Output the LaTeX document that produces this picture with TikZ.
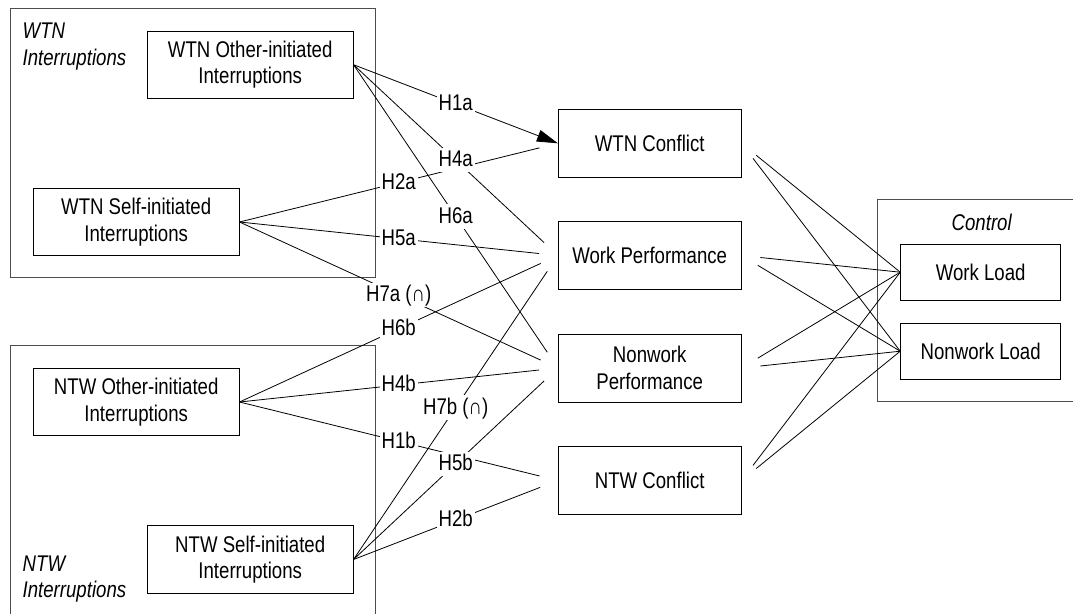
\documentclass[tikz,border=0pt]{standalone}
\usepackage{fontspec}
\setmainfont{Liberation Sans}[FakeStretch=0.82]
\usetikzlibrary{arrows.meta}
\newcommand\figfont{\fontsize{22.7}{26.7}\selectfont}
\begin{document}
\begin{tikzpicture}[x=1pt,y=-1pt,
  box/.style={draw=black, line width=0.9pt, align=center, inner sep=0pt,
    font=\figfont, minimum width=205.7pt, minimum height=67.3pt},
  midbox/.style={box, minimum width=182.7pt, minimum height=68pt},
  loadbox/.style={box, minimum width=160pt, minimum height=55.7pt},
  group/.style={draw=black!70, line width=1pt},
  grouplab/.style={font=\figfont\itshape, align=left, inner sep=0pt},
  hyp/.style={draw=black, line width=0.8pt},
  hlab/.style={fill=white, font=\figfont, text height=18pt, text depth=4.5pt,
    inner xsep=2pt, inner ysep=1pt},
  tomid/.style={hyp, shorten >=19pt},
  frommid/.style={hyp, shorten <=19pt},
  effect/.style={hyp, -{Triangle[length=21pt,width=12pt]}}
]
\useasboundingbox (0,0) rectangle (1073,613);
\clip (0,0) rectangle (1073,613);

% grouping frames (the lower and right ones run off the page)
\draw[group] (10.7,8.3) rectangle (375.7,277.7);
\draw[group] (10.7,345.7) rectangle (375.7,640);
\draw[group] (877.7,199.3) rectangle (1100,401);

\node[grouplab, anchor=north west] (wtngrp) at (22.5,22.7) {WTN\\Interruptions};
\node[grouplab, anchor=north west] (ntwgrp) at (22.5,555.4) {NTW\\Interruptions};
\node[grouplab, anchor=base] (ctrlgrp) at (981.7,230) {Control};

% constructs
\node[box] (wtnother) at (250.2,64.7) {WTN Other-initiated\\Interruptions};
\node[box] (wtnself) at (136.2,222) {WTN Self-initiated\\Interruptions};
\node[box] (ntwother) at (136.2,402) {NTW Other-initiated\\Interruptions};
\node[box] (ntwself) at (250.2,559.5) {NTW Self-initiated\\Interruptions};

\node[midbox] (wtnc) at (649.7,143.3) {WTN Conflict};
\node[midbox] (wperf) at (649.7,255.5) {Work Performance};
\node[midbox] (nperf) at (649.7,368) {Nonwork\\Performance};
\node[midbox] (ntwc) at (649.7,480.5) {NTW Conflict};

\node[loadbox] (wload) at (980.7,272.2) {Work Load};
\node[loadbox] (nload) at (980.7,351.2) {Nonwork Load};

% hypothesised paths
\draw[effect] (wtnother.east) -- coordinate[midway] (pH1a) (wtnc.west);
\draw[tomid] (wtnother.east) -- coordinate[midway] (pH4a) (wperf.west);
\draw[tomid] (wtnother.east) -- coordinate[midway] (pH6a) (nperf.west);
\draw[tomid] (wtnself.east) -- coordinate[midway] (pH2a) (wtnc.west);
\draw[tomid] (wtnself.east) -- coordinate[midway] (pH5a) (wperf.west);
\draw[tomid] (wtnself.east) -- coordinate[midway] (pH7a) (nperf.west);
\draw[tomid] (ntwother.east) -- coordinate[midway] (pH6b) (wperf.west);
\draw[tomid] (ntwother.east) -- coordinate[midway] (pH4b) (nperf.west);
\draw[tomid] (ntwother.east) -- coordinate[midway] (pH1b) (ntwc.west);
\draw[tomid] (ntwself.east) -- coordinate[midway] (pH7b) (wperf.west);
\draw[tomid] (ntwself.east) -- coordinate[midway] (pH5b) (nperf.west);
\draw[tomid] (ntwself.east) -- coordinate[midway] (pH2b) (ntwc.west);

% control paths
\foreach \m in {wtnc,wperf,nperf,ntwc} {
  \draw[frommid] (\m.east) -- (wload.west);
  \draw[frommid] (\m.east) -- (nload.west);
}

% path labels
\node[hlab] (H1a) at (pH1a) {H1a};
\node[hlab] (H4a) at (pH4a) {H4a};
\node[hlab] (H6a) at (pH6a) {H6a};
\node[hlab] (H2a) at (pH2a) {H2a};
\node[hlab] (H5a) at (pH5a) {H5a};
\node[hlab] (H7a) at (pH7a) {H7a (∩)};
\node[hlab] (H6b) at (pH6b) {H6b};
\node[hlab] (H4b) at (pH4b) {H4b};
\node[hlab] (H1b) at (pH1b) {H1b};
\node[hlab] (H7b) at (pH7b) {H7b (∩)};
\node[hlab] (H5b) at (pH5b) {H5b};
\node[hlab] (H2b) at (pH2b) {H2b};
\end{tikzpicture}
\end{document}
